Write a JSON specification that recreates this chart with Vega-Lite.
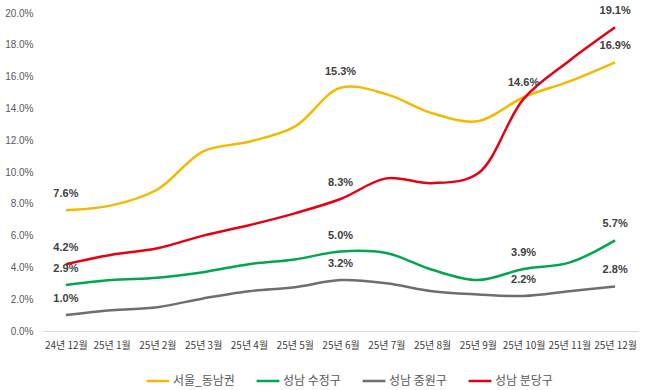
{
  "$schema": "https://vega.github.io/schema/vega-lite/v6.json",
  "autosize": "none",
  "width": 595,
  "height": 318,
  "padding": {"left": 43, "top": 13, "right": 12, "bottom": 59},
  "background": "white",
  "config": {"view": {"stroke": null}},
  "data": {"values": [
    {"month": "24년 12월", "series": "서울_동남권", "value": 0.076, "label": true},
    {"month": "25년 1월", "series": "서울_동남권", "value": 0.079, "label": false},
    {"month": "25년 2월", "series": "서울_동남권", "value": 0.089, "label": false},
    {"month": "25년 3월", "series": "서울_동남권", "value": 0.113, "label": false},
    {"month": "25년 4월", "series": "서울_동남권", "value": 0.119, "label": false},
    {"month": "25년 5월", "series": "서울_동남권", "value": 0.1285, "label": false},
    {"month": "25년 6월", "series": "서울_동남권", "value": 0.153, "label": true},
    {"month": "25년 7월", "series": "서울_동남권", "value": 0.149, "label": false},
    {"month": "25년 8월", "series": "서울_동남권", "value": 0.137, "label": false},
    {"month": "25년 9월", "series": "서울_동남권", "value": 0.132, "label": false},
    {"month": "25년 10월", "series": "서울_동남권", "value": 0.147, "label": false},
    {"month": "25년 11월", "series": "서울_동남권", "value": 0.157, "label": false},
    {"month": "25년 12월", "series": "서울_동남권", "value": 0.169, "label": true},
    {"month": "24년 12월", "series": "성남 수정구", "value": 0.029, "label": true},
    {"month": "25년 1월", "series": "성남 수정구", "value": 0.032, "label": false},
    {"month": "25년 2월", "series": "성남 수정구", "value": 0.0335, "label": false},
    {"month": "25년 3월", "series": "성남 수정구", "value": 0.037, "label": false},
    {"month": "25년 4월", "series": "성남 수정구", "value": 0.042, "label": false},
    {"month": "25년 5월", "series": "성남 수정구", "value": 0.045, "label": false},
    {"month": "25년 6월", "series": "성남 수정구", "value": 0.050, "label": true},
    {"month": "25년 7월", "series": "성남 수정구", "value": 0.049, "label": false},
    {"month": "25년 8월", "series": "성남 수정구", "value": 0.0385, "label": false},
    {"month": "25년 9월", "series": "성남 수정구", "value": 0.032, "label": false},
    {"month": "25년 10월", "series": "성남 수정구", "value": 0.039, "label": true},
    {"month": "25년 11월", "series": "성남 수정구", "value": 0.043, "label": false},
    {"month": "25년 12월", "series": "성남 수정구", "value": 0.057, "label": true},
    {"month": "24년 12월", "series": "성남 중원구", "value": 0.010, "label": true},
    {"month": "25년 1월", "series": "성남 중원구", "value": 0.013, "label": false},
    {"month": "25년 2월", "series": "성남 중원구", "value": 0.015, "label": false},
    {"month": "25년 3월", "series": "성남 중원구", "value": 0.0205, "label": false},
    {"month": "25년 4월", "series": "성남 중원구", "value": 0.025, "label": false},
    {"month": "25년 5월", "series": "성남 중원구", "value": 0.0275, "label": false},
    {"month": "25년 6월", "series": "성남 중원구", "value": 0.032, "label": true},
    {"month": "25년 7월", "series": "성남 중원구", "value": 0.030, "label": false},
    {"month": "25년 8월", "series": "성남 중원구", "value": 0.025, "label": false},
    {"month": "25년 9월", "series": "성남 중원구", "value": 0.023, "label": false},
    {"month": "25년 10월", "series": "성남 중원구", "value": 0.022, "label": true},
    {"month": "25년 11월", "series": "성남 중원구", "value": 0.025, "label": false},
    {"month": "25년 12월", "series": "성남 중원구", "value": 0.028, "label": true},
    {"month": "24년 12월", "series": "성남 분당구", "value": 0.042, "label": true},
    {"month": "25년 1월", "series": "성남 분당구", "value": 0.048, "label": false},
    {"month": "25년 2월", "series": "성남 분당구", "value": 0.052, "label": false},
    {"month": "25년 3월", "series": "성남 분당구", "value": 0.060, "label": false},
    {"month": "25년 4월", "series": "성남 분당구", "value": 0.0665, "label": false},
    {"month": "25년 5월", "series": "성남 분당구", "value": 0.074, "label": false},
    {"month": "25년 6월", "series": "성남 분당구", "value": 0.083, "label": true},
    {"month": "25년 7월", "series": "성남 분당구", "value": 0.096, "label": false},
    {"month": "25년 8월", "series": "성남 분당구", "value": 0.093, "label": false},
    {"month": "25년 9월", "series": "성남 분당구", "value": 0.099, "label": false},
    {"month": "25년 10월", "series": "성남 분당구", "value": 0.146, "label": true},
    {"month": "25년 11월", "series": "성남 분당구", "value": 0.170, "label": false},
    {"month": "25년 12월", "series": "성남 분당구", "value": 0.191, "label": true}
  ]},
  "encoding": {
    "x": {
      "field": "month", "type": "ordinal", "sort": null,
      "scale": {"type": "point", "padding": 0.5},
      "axis": {"title": null, "labelAngle": 0, "ticks": false, "domainColor": "#d9d9d9", "domainWidth": 1,
        "labelFont": "Noto Sans CJK KR", "labelFontSize": 10, "labelColor": "#404040", "labelPadding": 9}
    },
    "y": {
      "field": "value", "type": "quantitative",
      "scale": {"domain": [0, 0.2], "nice": false},
      "axis": {"title": null, "format": ".1%", "values": [0, 0.02, 0.04, 0.06, 0.08, 0.1, 0.12, 0.14, 0.16, 0.18, 0.2],
        "domain": false, "ticks": false, "grid": false, "labelFont": "Liberation Sans", "labelFontSize": 10,
        "labelColor": "#595959", "labelPadding": 10}
    }
  },
  "layer": [
    {
      "mark": {"type": "line", "interpolate": "catmull-rom", "strokeWidth": 2.5},
      "encoding": {
        "color": {
          "field": "series", "type": "nominal",
          "scale": {"domain": ["서울_동남권", "성남 수정구", "성남 중원구", "성남 분당구"],
                    "range": ["#F5B800", "#00A650", "#6E6E6E", "#E60012"]},
          "legend": {"title": null, "orient": "none", "legendX": 102, "legendY": 355, "direction": "horizontal",
            "symbolType": "stroke", "symbolStrokeWidth": 2.5, "symbolSize": 520, "columnPadding": 16,
            "labelFont": "Noto Sans CJK KR", "labelFontSize": 12, "labelColor": "#595959", "labelOffset": 2}
        }
      }
    },
    {
      "transform": [{"filter": "datum.label"}],
      "mark": {"type": "text", "dy": -16, "font": "Liberation Sans", "fontSize": 11, "fontWeight": "bold", "color": "#404040"},
      "encoding": {
        "text": {"field": "value", "type": "quantitative", "format": ".1%"}
      }
    }
  ]
}
